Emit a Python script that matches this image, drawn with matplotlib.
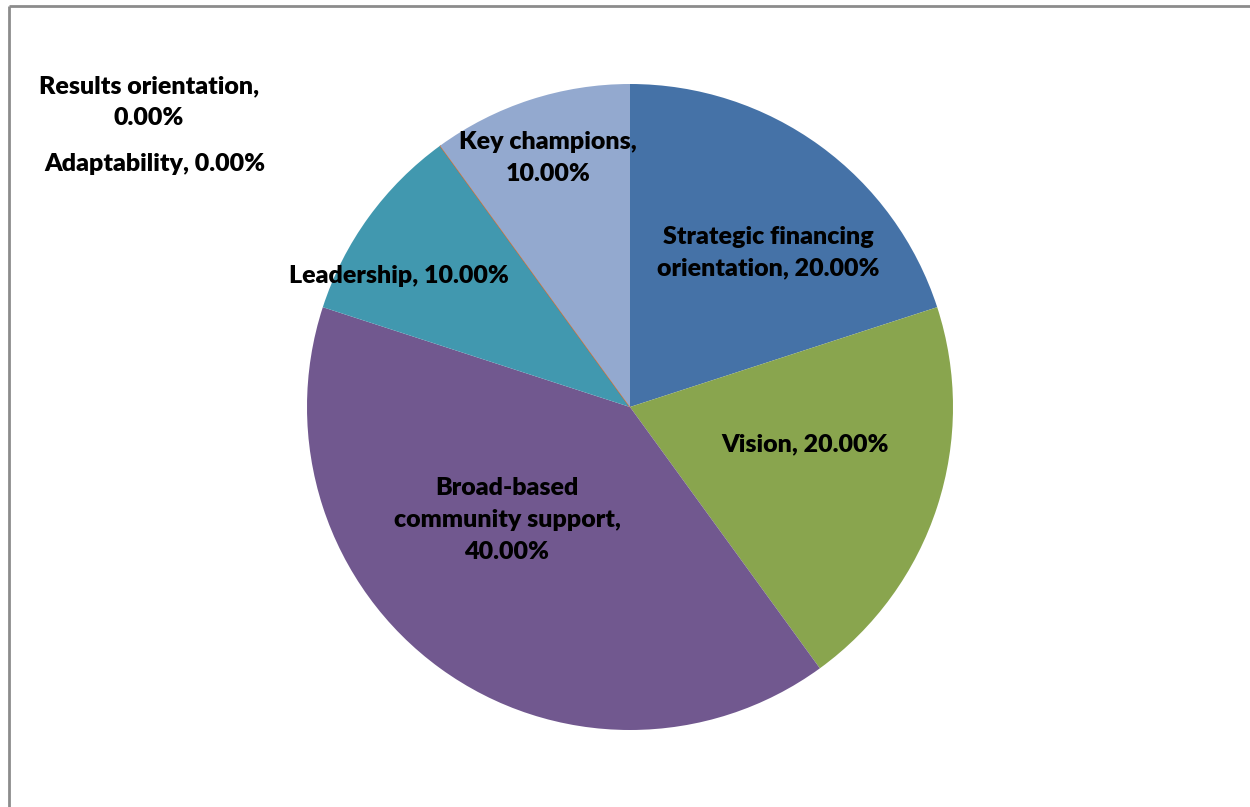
import matplotlib
matplotlib.use("Agg")
import matplotlib.pyplot as plt

categories = ["Strategic financing orientation", "Vision", "Broad-based community support",
              "Leadership", "Adaptability", "Results orientation", "Key champions"]
values = [20.0, 20.0, 40.0, 10.0, 0.0, 0.0, 10.0]
colors = ["#4572A7", "#89A54E", "#71588F", "#4198AF", "#AA4643", "#DB843D", "#93A9CF"]

label_texts = {
    "Strategic financing orientation": "Strategic financing\norientation, {:.2f}%",
    "Vision": "Vision, {:.2f}%",
    "Broad-based community support": "Broad-based\ncommunity support,\n{:.2f}%",
    "Leadership": "Leadership, {:.2f}%",
    "Results orientation": "Results orientation,\n{:.2f}%",
    "Adaptability": "Adaptability, {:.2f}%",
    "Key champions": "Key champions,\n{:.2f}%",
}
# label centre positions in pixels (x, y from top)
label_pos = {
    "Strategic financing orientation": (768, 253),
    "Vision": (805, 444),
    "Broad-based community support": (507, 520),
    "Leadership": (399, 276),
    "Results orientation": (149, 102),
    "Adaptability": (155, 164),
    "Key champions": (548, 158),
}

W, H = 1250, 807
fig = plt.figure(figsize=(12.5, 8.07), dpi=100)
ax = fig.add_axes([0, 0, 1, 1])

wedges, _ = ax.pie(values, colors=colors, startangle=90, counterclock=False,
                   center=(630, H - 407), radius=323,
                   wedgeprops=dict(linewidth=0))
for w, v, c in zip(wedges, values, colors):
    if v == 0:
        w.set_edgecolor(c)
        w.set_linewidth(0.8)

for cat, v in zip(categories, values):
    x, y = label_pos[cat]
    ax.text(x, H - y, label_texts[cat].format(v), ha="center", va="center",
            fontsize=18, fontweight="heavy", family="Lato", linespacing=1.53,
            color="black")

ax.set_xlim(0, W)
ax.set_ylim(0, H)
ax.set_aspect("equal")
ax.axis("off")

# chart frame (top and left edges visible)
ax.plot([8.5, W], [H - 6, H - 6], color="#8C8C8C", lw=2, solid_capstyle="butt")
ax.plot([8.5, 8.5], [0, H - 6], color="#8C8C8C", lw=2, solid_capstyle="butt")

fig.savefig("out.png", dpi=100)
